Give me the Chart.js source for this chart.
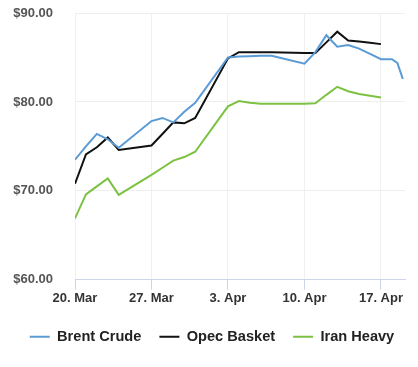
<!DOCTYPE html>
<html>
<head>
<meta charset="utf-8">
<script src="https://cdn.jsdelivr.net/npm/chart.js@4/dist/chart.umd.min.js"></script>
<style>
  html, body { margin: 0; padding: 0; background: #fff; }
  #wrap { width: 418px; height: 367px; }
</style>
</head>
<body>
<div id="wrap"><canvas id="oilChart" width="418" height="367"></canvas></div>
<script>
// days counted from 20 Mar
const tickDays = [0, 7, 14, 21, 28];
const tickLabels = ['20. Mar', '27. Mar', '3. Apr', '10. Apr', '17. Apr'];

const brentDays = [0, 1, 2, 3, 4, 7, 8, 9, 10, 11, 14, 15, 16, 17, 18, 21, 22, 23, 24, 25, 26, 27, 28, 29, 29.5, 30];
const brentValues = [73.5, 75.0, 76.4, 75.8, 74.85, 77.85, 78.2, 77.7, 78.9, 79.9, 85.0, 85.1, 85.15, 85.2, 85.2, 84.3, 85.6, 87.5, 86.2, 86.4, 86.0, 85.4, 84.8, 84.8, 84.4, 82.6];

const opecDays = [0, 1, 2, 3, 4, 7, 8, 9, 10, 11, 14, 15, 16, 17, 18, 21, 22, 23, 24, 25, 26, 27, 28];
const opecValues = [70.8, 74.1, 74.9, 76.0, 74.6, 75.1, 76.4, 77.7, 77.6, 78.2, 84.9, 85.6, 85.6, 85.6, 85.6, 85.5, 85.5, 86.7, 87.9, 86.9, 86.8, 86.65, 86.5];

const iranDays = [0, 1, 2, 3, 4, 7, 8, 9, 10, 11, 14, 15, 16, 17, 18, 21, 22, 23, 24, 25, 26, 27, 28];
const iranValues = [66.9, 69.6, 70.5, 71.4, 69.55, 71.8, 72.6, 73.4, 73.8, 74.4, 79.5, 80.1, 79.9, 79.8, 79.8, 79.8, 79.85, 80.8, 81.7, 81.2, 80.9, 80.7, 80.5];

function toPoints(days, values) {
    return days.map((d, i) => ({ x: d, y: values[i] }));
}

const fontFamily = "'Liberation Sans', Arial, sans-serif";

function makeSet(label, days, values, color) {
    return {
        label: label,
        data: toPoints(days, values),
        borderColor: color,
        backgroundColor: color,
        borderWidth: 2,
        pointRadius: 0,
        tension: 0
    };
}

new Chart(document.getElementById('oilChart').getContext('2d'), {
    type: 'line',
    data: {
        datasets: [
            makeSet('Brent Crude', brentDays, brentValues, '#5b9bd5'),
            makeSet('Opec Basket', opecDays, opecValues, '#111111'),
            makeSet('Iran Heavy', iranDays, iranValues, '#7cc242')
        ]
    },
    options: {
        responsive: false,
        animation: false,
        layout: { padding: { top: 13, left: 6, right: 0, bottom: 13 } },
        plugins: {
            tooltip: { enabled: false },
            legend: {
                position: 'bottom',
                labels: {
                    usePointStyle: true,
                    pointStyle: 'line',
                    pointStyleWidth: 20,
                    boxHeight: 14,
                    padding: 18,
                    color: '#222',
                    font: { family: fontFamily, size: 14.6, weight: 'bold' }
                }
            }
        },
        scales: {
            x: {
                type: 'linear',
                min: 0,
                max: 30.2,
                afterBuildTicks: (scale) => {
                    scale.ticks = tickDays.map(v => ({ value: v }));
                },
                afterFit: (scale) => { scale.height += 4; },
                ticks: {
                    autoSkip: false,
                    maxRotation: 0,
                    padding: 1,
                    color: '#333',
                    font: { family: fontFamily, size: 13, weight: 'bold' },
                    callback: (value) => {
                        const i = tickDays.indexOf(value);
                        return i >= 0 ? tickLabels[i] : '';
                    }
                },
                grid: { color: '#f0f0f0', tickColor: '#ccd6eb', tickLength: 10 },
                border: { color: '#ccd6eb' }
            },
            y: {
                min: 60,
                max: 90,
                afterFit: (scale) => { scale.width = 69; },
                ticks: {
                    stepSize: 10,
                    crossAlign: 'near',
                    padding: 0,
                    color: '#555',
                    font: { family: fontFamily, size: 13, weight: 'bold' },
                    callback: (value) => '$' + value.toFixed(2)
                },
                grid: { color: '#eeeeee', drawTicks: true, tickLength: 22, tickColor: 'rgba(0,0,0,0)' },
                border: { display: false }
            },
            // empty strip on the right, keeps the plot off the edge
            yRight: {
                position: 'right',
                afterFit: (scale) => { scale.width = 13; },
                ticks: { display: false },
                grid: { display: false },
                border: { display: false }
            }
        }
    }
});
</script>
</body>
</html>
